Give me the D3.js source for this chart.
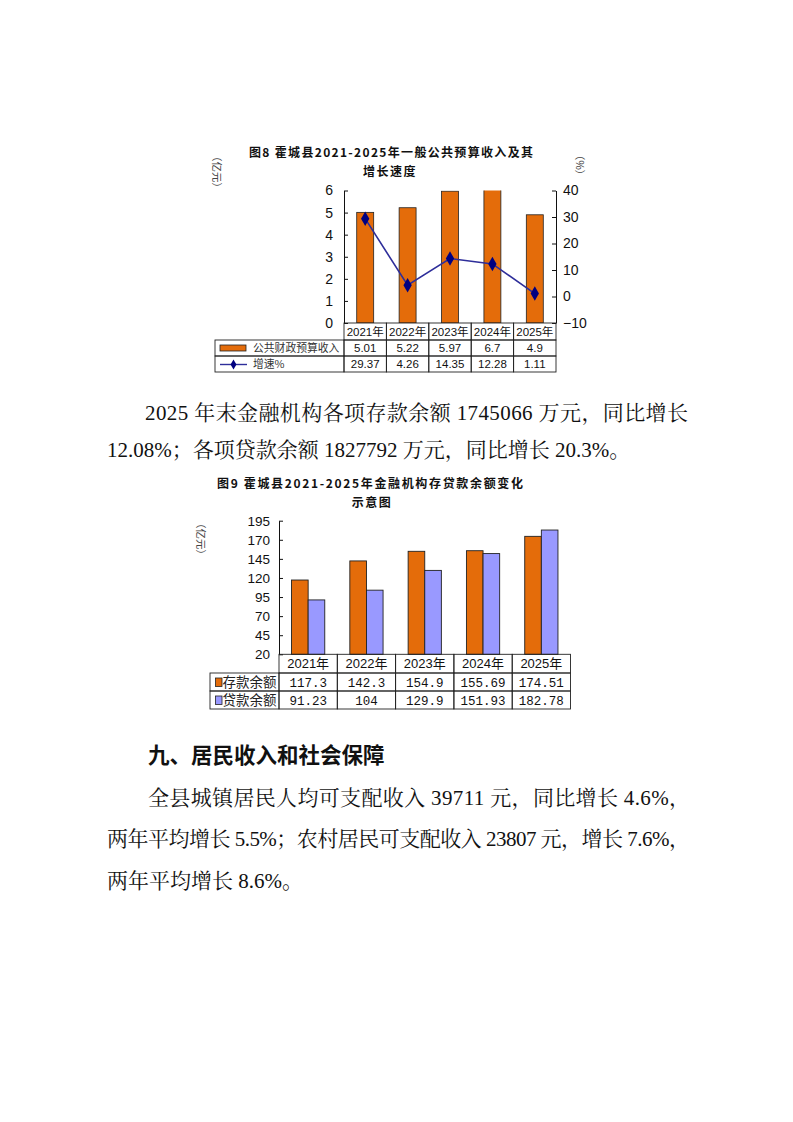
<!DOCTYPE html>
<html><head><meta charset="utf-8">
<script src="https://cdn.jsdelivr.net/npm/d3@7"></script>
<style>body{margin:0;background:#fff}</style>
</head><body><svg id="c" width="793" height="1122" xmlns="http://www.w3.org/2000/svg"></svg>
<script>
// ---------- data ----------
const years = ["2021年", "2022年", "2023年", "2024年", "2025年"];
const revenue = [5.01, 5.22, 5.97, 6.7, 4.9];
const growth = [29.37, 4.26, 14.35, 12.28, 1.11];
const deposits = [117.3, 142.3, 154.9, 155.69, 174.51];
const loans = [91.23, 104, 129.9, 151.93, 182.78];
const ticksLeft1 = [0, 1, 2, 3, 4, 5, 6];
const ticksRight1 = [-10, 0, 10, 20, 30, 40];
const ticks2 = [20, 45, 70, 95, 120, 145, 170, 195];
const seriesNames1 = ["公共财政预算收入", "增速%"];
const seriesNames2 = ["存款余额", "贷款余额"];

const SANS = "'Liberation Sans', Arial, 'Noto Sans CJK SC', sans-serif";
const MONO = "'Liberation Mono', 'Noto Sans CJK SC', monospace";
const BODY = "'Liberation Serif', 'Noto Serif CJK SC', 'Noto Sans CJK SC', serif";
const CJK = "'Noto Sans CJK SC', sans-serif";
const ORANGE = "#E46C0A", BLUEBAR = "#9999FF", LINE = "#2E2E9A", MARK = "#000080";

const svg = d3.select("#c");
svg.append("rect").attr("width", 793).attr("height", 1122).attr("fill", "#fff");

// ---------- chart 1 ----------
const c1 = {l: 344, r: 556, t: 190.5, b: 323, tl: 215, rowY: [323, 340, 356, 372]};
const x1 = d3.scaleBand().domain(years).range([c1.l, c1.r]);
const y1 = d3.scaleLinear().domain([0, 6]).range([c1.b, c1.t]);
const y1r = d3.scaleLinear().domain([-10, 40]).range([c1.b, c1.t]);
const bw1 = x1.bandwidth();

svg.append("text").attr("x", 249).attr("y", 157).attr("textLength", 284)
  .attr("font-family", CJK).attr("font-weight", "bold").attr("font-size", 12).attr("fill", "#111")
  .text("图8  霍城县2021-2025年一般公共预算收入及其");
svg.append("text").attr("x", 390).attr("y", 175.5).attr("text-anchor", "middle")
  .attr("font-family", CJK).attr("font-weight", "bold").attr("font-size", 12).attr("fill", "#111")
  .attr("letter-spacing", 1.5).text("增长速度");
svg.append("text").attr("transform", "translate(213,172) rotate(90)").attr("text-anchor", "middle")
  .attr("font-family", CJK).attr("font-size", 10.5).attr("fill", "#444").text("（亿元）");
svg.append("text").attr("transform", "translate(576,165) rotate(90)").attr("text-anchor", "middle")
  .attr("font-family", CJK).attr("font-size", 10.5).attr("fill", "#444").text("（%）");

svg.append("clipPath").attr("id", "clip1").append("rect")
  .attr("x", c1.l).attr("y", c1.t).attr("width", c1.r - c1.l).attr("height", c1.b - c1.t);

svg.append("g").attr("clip-path", "url(#clip1)").selectAll("rect").data(years).join("rect")
  .attr("x", (d) => x1(d) + bw1 * 0.3).attr("width", bw1 * 0.4)
  .attr("y", (d, i) => y1(revenue[i])).attr("height", (d, i) => c1.b - y1(revenue[i]))
  .attr("fill", ORANGE).attr("stroke", "#222").attr("stroke-width", 0.8);

const axL1 = svg.append("g").attr("transform", `translate(${c1.l},0)`)
  .call(d3.axisLeft(y1).tickValues(ticksLeft1).tickSize(-4).tickSizeOuter(0).tickPadding(11).tickFormat(d3.format("d")));
const axR1 = svg.append("g").attr("transform", `translate(${c1.r},0)`)
  .call(d3.axisRight(y1r).tickValues(ticksRight1).tickSize(-4).tickSizeOuter(0).tickPadding(7).tickFormat(d3.format("d")));
[axL1, axR1].forEach((a) => {
  a.selectAll("text").attr("font-family", SANS).attr("font-size", 14).attr("fill", "#111");
  a.selectAll("line,path").attr("stroke", "#111");
});

const line1 = d3.line().x((d, i) => x1(years[i]) + bw1 / 2).y((d) => y1r(d));
svg.append("path").datum(growth).attr("d", line1).attr("fill", "none")
  .attr("stroke", LINE).attr("stroke-width", 1.6);
svg.append("g").selectAll("path").data(growth).join("path")
  .attr("transform", (d, i) => `translate(${x1(years[i]) + bw1 / 2},${y1r(d)})`)
  .attr("d", d3.symbol().type(d3.symbolDiamond).size(60)).attr("fill", MARK);

// table 1
const t1 = svg.append("g").attr("font-family", SANS).attr("font-size", 11.5).attr("fill", "#111");
years.forEach((yr, i) => {
  for (let r = 0; r < 3; r++) {
    t1.append("rect").attr("x", x1(yr)).attr("y", c1.rowY[r]).attr("width", bw1)
      .attr("height", c1.rowY[r + 1] - c1.rowY[r]).attr("fill", "none").attr("stroke", "#222").attr("stroke-width", 0.9);
  }
  t1.append("text").attr("x", x1(yr) + bw1 / 2).attr("y", c1.rowY[0] + 12.5).attr("text-anchor", "middle").text(yr);
  t1.append("text").attr("x", x1(yr) + bw1 / 2).attr("y", c1.rowY[1] + 12).attr("text-anchor", "middle").text(String(revenue[i]));
  t1.append("text").attr("x", x1(yr) + bw1 / 2).attr("y", c1.rowY[2] + 12).attr("text-anchor", "middle").text(String(growth[i]));
});
for (let r = 1; r < 3; r++) {
  t1.append("rect").attr("x", c1.tl).attr("y", c1.rowY[r]).attr("width", c1.l - c1.tl)
    .attr("height", c1.rowY[r + 1] - c1.rowY[r]).attr("fill", "none").attr("stroke", "#222").attr("stroke-width", 0.9);
}
t1.append("rect").attr("x", 220).attr("y", 345).attr("width", 26).attr("height", 6)
  .attr("fill", ORANGE).attr("stroke", "#222").attr("stroke-width", 0.8);
t1.append("text").attr("x", 253).attr("y", 352).attr("font-family", CJK).attr("font-size", 10.8).attr("fill", "#333").text(seriesNames1[0]);
t1.append("line").attr("x1", 220).attr("x2", 247).attr("y1", 364.5).attr("y2", 364.5).attr("stroke", LINE).attr("stroke-width", 1.4);
t1.append("path").attr("transform", "translate(233.5,364.5)").attr("d", d3.symbol().type(d3.symbolDiamond).size(30)).attr("fill", MARK);
t1.append("text").attr("x", 253).attr("y", 368).attr("font-family", CJK).attr("font-size", 10.8).attr("fill", "#333").text(seriesNames1[1]);

// ---------- chart 2 ----------
const c2 = {l: 279, r: 570.5, t: 520.7, b: 654.3, tl: 210, rowY: [654.3, 673, 691, 709]};
const x2 = d3.scaleBand().domain(years).range([c2.l, c2.r]);
const y2 = d3.scaleLinear().domain([20, 195]).range([c2.b, c2.t]);
const bw2 = x2.bandwidth();
const barW2 = bw2 * 0.285;

svg.append("text").attr("x", 217).attr("y", 488).attr("textLength", 306)
  .attr("font-family", CJK).attr("font-weight", "bold").attr("font-size", 12).attr("fill", "#111")
  .text("图9  霍城县2021-2025年金融机构存贷款余额变化");
svg.append("text").attr("x", 372).attr("y", 506.5).attr("text-anchor", "middle")
  .attr("font-family", CJK).attr("font-weight", "bold").attr("font-size", 12).attr("fill", "#111")
  .attr("letter-spacing", 1.5).text("示意图");
svg.append("text").attr("transform", "translate(197,539) rotate(90)").attr("text-anchor", "middle")
  .attr("font-family", CJK).attr("font-size", 10.5).attr("fill", "#444").text("（亿元）");

const g2 = svg.append("g");
g2.selectAll("rect.dep").data(years).join("rect").attr("class", "dep")
  .attr("x", (d) => x2(d) + bw2 / 2 - barW2).attr("width", barW2)
  .attr("y", (d, i) => y2(deposits[i])).attr("height", (d, i) => c2.b - y2(deposits[i]))
  .attr("fill", ORANGE).attr("stroke", "#222").attr("stroke-width", 0.9);
g2.selectAll("rect.loan").data(years).join("rect").attr("class", "loan")
  .attr("x", (d) => x2(d) + bw2 / 2).attr("width", barW2)
  .attr("y", (d, i) => y2(loans[i])).attr("height", (d, i) => c2.b - y2(loans[i]))
  .attr("fill", BLUEBAR).attr("stroke", "#222").attr("stroke-width", 0.9);

const ax2 = svg.append("g").attr("transform", `translate(${c2.l},0)`)
  .call(d3.axisLeft(y2).tickValues(ticks2).tickSize(-4).tickSizeOuter(0).tickPadding(9).tickFormat(d3.format("d")));
ax2.selectAll("text").attr("font-family", SANS).attr("font-size", 13.5).attr("fill", "#111");
ax2.selectAll("line,path").attr("stroke", "#111");

const t2 = svg.append("g").attr("fill", "#111");
years.forEach((yr, i) => {
  for (let r = 0; r < 3; r++) {
    t2.append("rect").attr("x", x2(yr)).attr("y", c2.rowY[r]).attr("width", bw2)
      .attr("height", c2.rowY[r + 1] - c2.rowY[r]).attr("fill", "none").attr("stroke", "#222").attr("stroke-width", 0.9);
  }
  t2.append("text").attr("x", x2(yr) + bw2 / 2).attr("y", c2.rowY[0] + 14).attr("text-anchor", "middle")
    .attr("font-family", SANS).attr("font-size", 13).text(yr);
  t2.append("text").attr("x", x2(yr) + bw2 / 2).attr("y", c2.rowY[1] + 13.5).attr("text-anchor", "middle")
    .attr("font-family", MONO).attr("font-size", 12.5).text(String(deposits[i]));
  t2.append("text").attr("x", x2(yr) + bw2 / 2).attr("y", c2.rowY[2] + 13.5).attr("text-anchor", "middle")
    .attr("font-family", MONO).attr("font-size", 12.5).text(String(loans[i]));
});
for (let r = 1; r < 3; r++) {
  t2.append("rect").attr("x", c2.tl).attr("y", c2.rowY[r]).attr("width", c2.l - c2.tl)
    .attr("height", c2.rowY[r + 1] - c2.rowY[r]).attr("fill", "none").attr("stroke", "#222").attr("stroke-width", 0.9);
}
[ORANGE, BLUEBAR].forEach((col, k) => {
  const ry = c2.rowY[k + 1];
  t2.append("rect").attr("x", 215.5).attr("y", ry + 5).attr("width", 6.5).attr("height", 8.5)
    .attr("fill", col).attr("stroke", "#222").attr("stroke-width", 0.8);
  t2.append("text").attr("x", 222.5).attr("y", ry + 14.2).attr("font-family", CJK).attr("font-size", 13.5)
    .attr("fill", "#222").text(seriesNames2[k]);
});

// ---------- body text ----------
const body = svg.append("g").attr("font-family", BODY).attr("font-size", 21).attr("fill", "#111");
const lines = [
  {x: 145, y: 420, t: "2025 年末金融机构各项存款余额 1745066 万元，同比增长", w: 543},
  {x: 107, y: 457, t: "12.08%；各项贷款余额 1827792 万元，同比增长 20.3%。"},
  {x: 148, y: 805, t: "全县城镇居民人均可支配收入 39711 元，同比增长 4.6%，", w: 542},
  {x: 107, y: 846, t: "两年平均增长 5.5%；农村居民可支配收入 23807 元，增长 7.6%，", w: 583},
  {x: 107, y: 888, t: "两年平均增长 8.6%。"}
];
lines.forEach((l) => {
  const t = body.append("text").attr("x", l.x).attr("y", l.y).text(l.t);
  if (l.w) t.attr("textLength", l.w).attr("lengthAdjust", "spacing");
});
svg.append("text").attr("x", 148).attr("y", 763).attr("font-family", CJK).attr("font-weight", "bold")
  .attr("font-size", 21.5).attr("fill", "#111").text("九、居民收入和社会保障");
</script></body></html>
